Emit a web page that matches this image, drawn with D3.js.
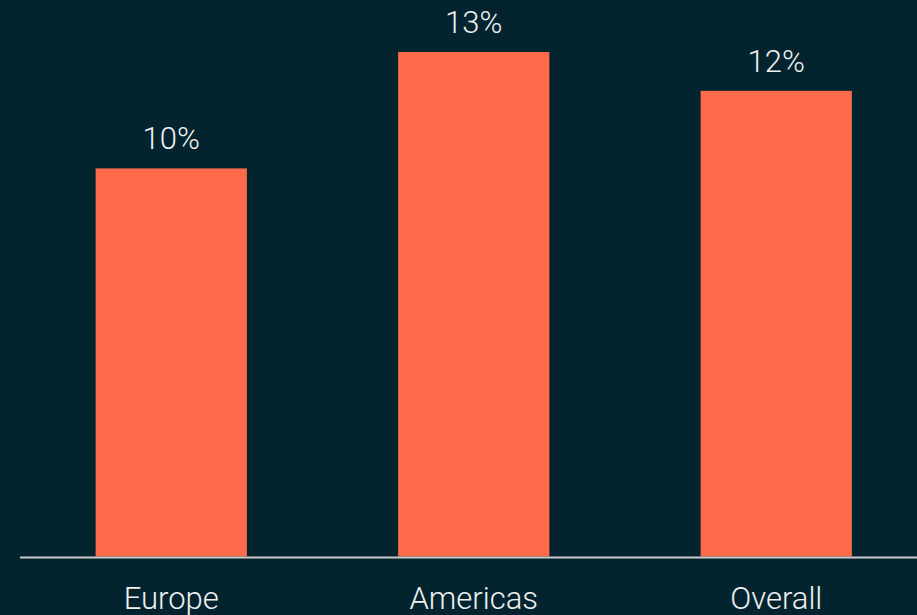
<!DOCTYPE html>
<html>
<head>
<meta charset="utf-8">
<script src="https://cdn.jsdelivr.net/npm/d3@7"></script>
<style>
  html, body { margin: 0; padding: 0; background: #03242f; overflow: hidden; }
  svg { display: block; }
  text { font-family: Roboto, "Liberation Sans", sans-serif; font-weight: 300; fill: #eef0f0; }
</style>
</head>
<body>
<script>
const regions = ["Europe", "Americas", "Overall"];
const shares = [10, 13, 12];
const valueLabels = ["10%", "13%", "12%"];

const W = 917, H = 615;
const svg = d3.select("body").append("svg").attr("width", W).attr("height", H);

const x = d3.scaleBand().domain(regions).range([20, 927.5]).paddingInner(0.5).paddingOuter(0.25);
const y = d3.scaleLinear().domain([0, 13]).range([556.5, 52]);

svg.selectAll("rect.bar")
  .data(regions)
  .join("rect")
  .attr("class", "bar")
  .attr("x", d => x(d))
  .attr("width", x.bandwidth())
  .attr("y", (d, i) => y(shares[i]))
  .attr("height", (d, i) => y(0) - y(shares[i]))
  .attr("fill", "#ff6a4b");

svg.selectAll("text.value")
  .data(regions)
  .join("text")
  .attr("class", "value")
  .attr("x", d => x(d) + x.bandwidth() / 2)
  .attr("y", (d, i) => y(shares[i]) - 19)
  .attr("text-anchor", "middle")
  .attr("font-size", 31)
  .text((d, i) => valueLabels[i]);

// baseline
svg.append("line")
  .attr("x1", 20).attr("x2", W)
  .attr("y1", 557.5).attr("y2", 557.5)
  .attr("stroke", "#c9cccc").attr("stroke-width", 2);

svg.selectAll("text.cat")
  .data(regions)
  .join("text")
  .attr("class", "cat")
  .attr("x", d => x(d) + x.bandwidth() / 2)
  .attr("y", 609)
  .attr("text-anchor", "middle")
  .attr("font-size", 31)
  .text(d => d);
</script>
</body>
</html>
